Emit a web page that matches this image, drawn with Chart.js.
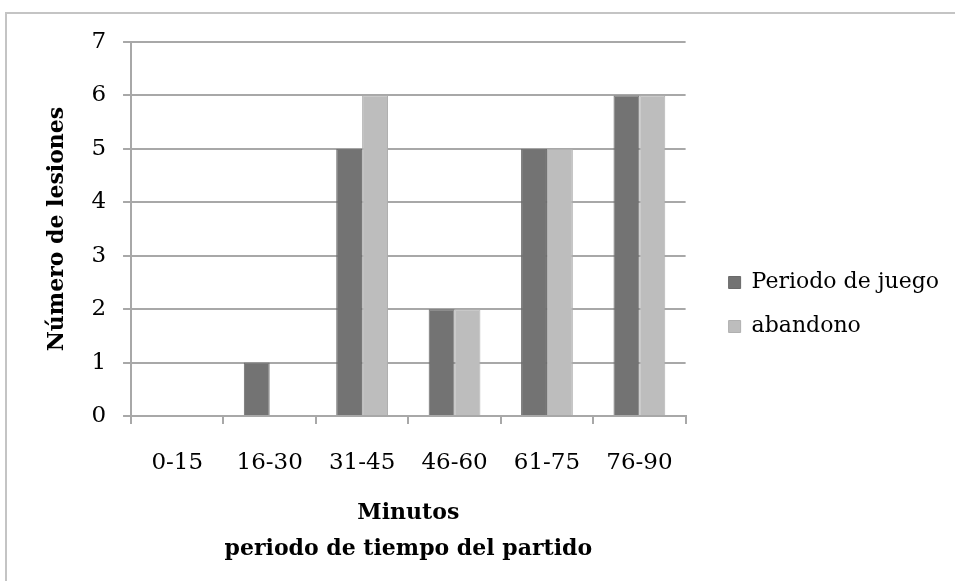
<!DOCTYPE html>
<html>
<head>
<meta charset="utf-8">
<script src="https://cdn.jsdelivr.net/npm/chart.js@4.4.1/dist/chart.umd.min.js"></script>
<style>
    html, body { margin: 0; padding: 0; background: #fff; }
    #wrap { position: relative; width: 955px; height: 581px; overflow: hidden; }
    #frame { position: absolute; left: 5px; top: 12px; width: 1000px; height: 700px; border: 2px solid #c4c4c4; box-sizing: border-box; }
    #chart { position: absolute; left: 0; top: 0; }
</style>
</head>
<body>
<div id="wrap">
    <div id="frame"></div>
    <canvas id="chart" width="955" height="581"></canvas>
</div>
<script>
const categories = ['0-15', '16-30', '31-45', '46-60', '61-75', '76-90'];
const periodoJuego = [0, 1, 5, 2, 5, 6];
const abandono = [0, 0, 6, 2, 5, 6];
const seriesNames = ['Periodo de juego', 'abandono'];

const serif = "'DejaVu Serif', serif";

document.addEventListener('DOMContentLoaded', function() {
    const ctx = document.getElementById('chart').getContext('2d');
    new Chart(ctx, {
        type: 'bar',
        data: {
            labels: categories,
            datasets: [{
                label: seriesNames[0],
                data: periodoJuego,
                backgroundColor: '#737373',
                borderColor: '#6a6a6a',
                borderWidth: 1,
                barPercentage: 1,
                categoryPercentage: 0.56
            }, {
                label: seriesNames[1],
                data: abandono,
                backgroundColor: '#bdbdbd',
                borderColor: '#b0b0b0',
                borderWidth: 1,
                barPercentage: 1,
                categoryPercentage: 0.56
            }]
        },
        options: {
            responsive: false,
            animation: false,
            layout: { padding: { left: 40, top: 42, right: 6, bottom: 14 } },
            scales: {
                x: {
                    grid: { display: true, offset: true, drawOnChartArea: false, color: '#a8a8a8', lineWidth: 2, tickLength: 8 },
                    border: { color: '#a8a8a8', width: 2 },
                    ticks: { color: '#000', padding: 25, font: { family: serif, size: 23 } },
                    title: {
                        display: true,
                        text: ['Minutos', 'periodo de tiempo del partido'],
                        color: '#000',
                        font: { family: serif, size: 22, weight: 'bold', lineHeight: 1.636 },
                        padding: { top: 19, bottom: 0 }
                    },
                    afterFit: function(scale) { scale.height = 151; }
                },
                y: {
                    min: 0,
                    max: 7,
                    ticks: { stepSize: 1, color: '#000', padding: 17, font: { family: serif, size: 23 } },
                    grid: { color: '#a8a8a8', lineWidth: 2, tickLength: 8 },
                    border: { color: '#a8a8a8', width: 2 },
                    title: {
                        display: true,
                        text: 'Número de lesiones',
                        color: '#000',
                        font: { family: serif, size: 22, weight: 'bold' },
                        padding: { top: 4, bottom: 4 }
                    }
                },
                gap: {
                    position: 'right',
                    display: true,
                    grid: { display: false },
                    border: { display: false },
                    ticks: { display: false },
                    afterFit: function(scale) { scale.width = 21; }
                }
            },
            plugins: {
                legend: {
                    position: 'right',
                    maxWidth: 320,
                    labels: {
                        color: '#000',
                        boxWidth: 12,
                        boxHeight: 12,
                        padding: 22,
                        font: { family: serif, size: 22 }
                    }
                },
                tooltip: { enabled: false }
            }
        }
    });
});
</script>
</body>
</html>
